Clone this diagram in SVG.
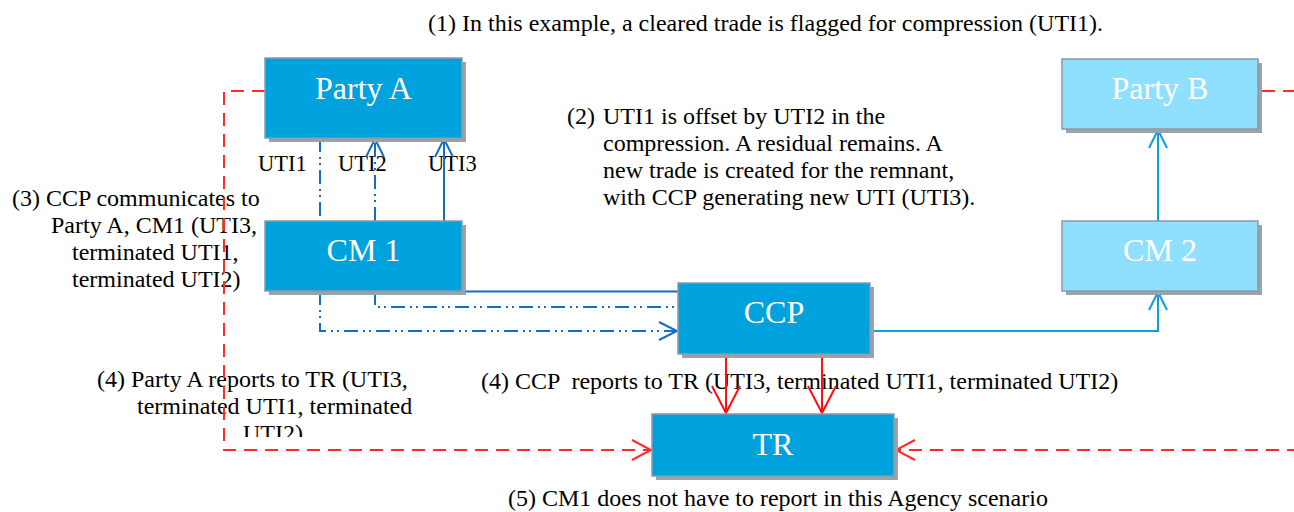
<svg xmlns="http://www.w3.org/2000/svg" width="1294" height="512" viewBox="0 0 1294 512">
<style>
.shadow{fill:#9aa3aa}
.box{fill:#00a2de;stroke:#8a9aa6;stroke-width:1.5}
.lbox{fill:#8fdffe;stroke:#8a9aa6;stroke-width:1.5}
.lbl{font-family:"Liberation Serif","Times New Roman",serif;font-size:32px;fill:#ffffff;text-anchor:middle}
.note{font-family:"Liberation Serif","Times New Roman",serif;font-size:24px;fill:#000000;white-space:pre}
.uti{font-family:"Liberation Serif","Times New Roman",serif;font-size:22.5px;fill:#000000}
.db{fill:none;stroke:#1a6dbd;stroke-width:2}
.dbd{fill:none;stroke:#1a6dbd;stroke-width:2;stroke-dasharray:14 5 2 4 2 5}
.lb{fill:none;stroke:#0aa0e0;stroke-width:2}
.red{fill:none;stroke:#ff1010;stroke-width:2}
.redd{fill:none;stroke:#ff2a2a;stroke-width:2;stroke-dasharray:13 8}
</style>
<defs>
<marker id="aDB" markerUnits="userSpaceOnUse" markerWidth="22" markerHeight="22" refX="18" refY="9" orient="auto" overflow="visible"><path d="M0,0 L18,9 L0,18" fill="none" stroke="#1a6dbd" stroke-width="2"/></marker>
<marker id="aLB" markerUnits="userSpaceOnUse" markerWidth="22" markerHeight="22" refX="18" refY="9" orient="auto" overflow="visible"><path d="M0,0 L18,9 L0,18" fill="none" stroke="#0aa0e0" stroke-width="2"/></marker>
<marker id="aRB" markerUnits="userSpaceOnUse" markerWidth="30" markerHeight="30" refX="27" refY="14" orient="auto" overflow="visible"><path d="M0,0 L27,14 L0,28" fill="none" stroke="#ff1010" stroke-width="2"/></marker>
<marker id="aRD" markerUnits="userSpaceOnUse" markerWidth="22" markerHeight="22" refX="19" refY="10" orient="auto" overflow="visible"><path d="M0,0 L19,10 L0,20" fill="none" stroke="#ff2a2a" stroke-width="2"/></marker>
<clipPath id="clip4"><rect x="0" y="340" width="480" height="97"/></clipPath>
</defs>

<g id="notes">
<text class="note" x="428" y="31">(1) In this example, a cleared trade is flagged for compression (UTI1).</text>
<text class="note" x="567" y="124">(2)</text>
<text class="note" x="603" y="124">UTI1 is offset by UTI2 in the</text>
<text class="note" x="603" y="151">compression. A residual remains. A</text>
<text class="note" x="603" y="178">new trade is created for the remnant,</text>
<text class="note" x="603" y="205">with CCP generating new UTI (UTI3).</text>
<text class="note" x="12" y="206">(3) CCP communicates to</text>
<text class="note" x="51" y="233">Party A, CM1 (UTI3,</text>
<text class="note" x="72" y="260">terminated UTI1,</text>
<text class="note" x="72" y="287">terminated UTI2)</text>
<g clip-path="url(#clip4)">
<text class="note" x="97" y="387">(4) Party A reports to TR (UTI3,</text>
<text class="note" x="137" y="414">terminated UTI1, terminated</text>
<text class="note" x="243" y="441">UTI2)</text>
</g>
<text class="note" x="481" y="389">(4) CCP  reports to TR (UTI3, terminated UTI1, terminated UTI2)</text>
<text class="note" x="508" y="506">(5) CM1 does not have to report in this Agency scenario</text>
<text class="uti" x="258" y="171">UTI1</text>
<text class="uti" x="338" y="171">UTI2</text>
<text class="uti" x="428" y="171">UTI3</text>
</g>

<g id="connectors">
<path class="dbd" d="M320,138 V221"/>
<path class="dbd" d="M375,221 V139" marker-end="url(#aDB)"/>
<path class="db" d="M444,221 V139" marker-end="url(#aDB)"/>
<path class="dbd" d="M320,291 V331 H677" marker-end="url(#aDB)"/>
<path class="dbd" d="M375,291 V307 H678"/>
<path class="db" d="M443,291.5 H678"/>
<path class="lb" d="M870,331 H1158 V292" marker-end="url(#aLB)"/>
<path class="lb" d="M1158,221 V130" marker-end="url(#aLB)"/>
<path class="red" d="M726,354 V413" marker-end="url(#aRB)"/>
<path class="red" d="M822,354 V413" marker-end="url(#aRB)"/>
<path class="redd" d="M265,91 H224 V450 H651" marker-end="url(#aRD)"/>
<path class="redd" d="M1262,91 H1300"/>
<path class="redd" d="M1300,450 H896" marker-end="url(#aRD)"/>
</g>

<g id="party-a">
<rect class="shadow" x="269" y="62" width="197" height="80"/>
<rect class="box" x="265" y="58" width="197" height="80"/>
<text class="lbl" x="363.5" y="99">Party A</text>
</g>
<g id="cm1">
<rect class="shadow" x="269" y="225" width="197" height="70"/>
<rect class="box" x="265" y="221" width="197" height="70"/>
<text class="lbl" x="363.5" y="261">CM 1</text>
</g>
<g id="ccp">
<rect class="shadow" x="682" y="287" width="192" height="71"/>
<rect class="box" x="678" y="283" width="192" height="71"/>
<text class="lbl" x="774" y="323">CCP</text>
</g>
<g id="tr">
<rect class="shadow" x="656" y="418" width="242" height="62"/>
<rect class="box" x="652" y="414" width="242" height="62"/>
<text class="lbl" x="773" y="455">TR</text>
</g>
<g id="party-b">
<rect class="shadow" x="1066" y="63" width="196" height="70"/>
<rect class="lbox" x="1062" y="59" width="196" height="70"/>
<text class="lbl" x="1160" y="99">Party B</text>
</g>
<g id="cm2">
<rect class="shadow" x="1066" y="225" width="196" height="70"/>
<rect class="lbox" x="1062" y="221" width="196" height="70"/>
<text class="lbl" x="1160" y="261">CM 2</text>
</g>
</svg>
